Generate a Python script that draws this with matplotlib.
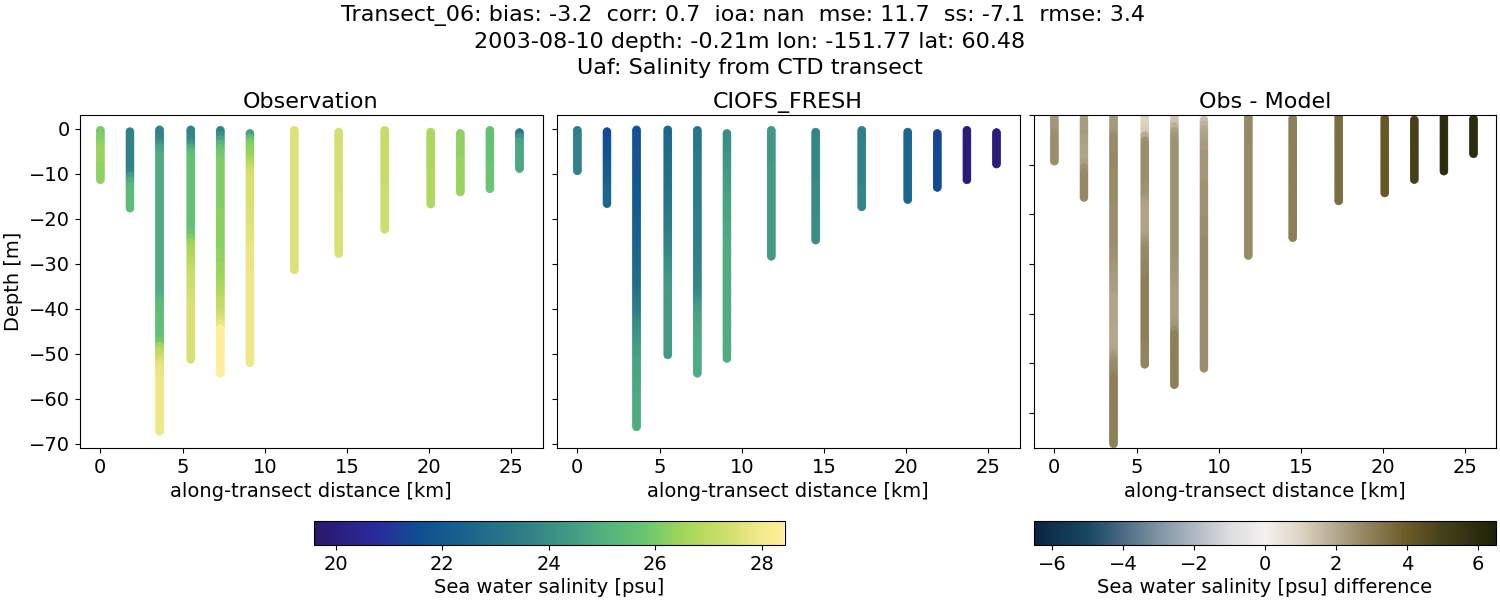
import numpy as np
import matplotlib
matplotlib.use("Agg")
import matplotlib.pyplot as plt
from matplotlib.cm import ScalarMappable
from matplotlib.colors import LinearSegmentedColormap, Normalize

TITLE = ("Transect_06: bias: -3.2  corr: 0.7  ioa: nan  mse: 11.7  ss: -7.1  rmse: 3.4  \n"
         "2003-08-10 depth: -0.21m lon: -151.77 lat: 60.48\n"
         "Uaf: Salinity from CTD transect")
PANEL_TITLES = ["Observation", "CIOFS_FRESH", "Obs - Model"]
XLABEL = "along-transect distance [km]"
YLABEL = "Depth [m]"
CBAR_LABEL = "Sea water salinity [psu]"
DIFF_LABEL = "Sea water salinity [psu] difference"

DISTANCE = [0.0, 1.8, 3.6, 5.5, 7.3, 9.1, 11.8, 14.5, 17.3, 20.1, 21.9, 23.7, 25.5]
TOP_DEPTH = [-0.3, -0.6, -0.2, -0.2, -0.3, -1.0, -0.3, -0.7, -0.3, -0.7, -1.0, -0.3, -0.8]
LEVELS = [0, -0.5, -1, -1.5, -2, -2.5, -3, -3.5, -4, -4.5, -5, -5.5, -6, -6.5, -7, -7.5, -8, -8.5, -9, -9.5,
          -10, -10.5, -11, -11.5, -12, -12.5, -13, -13.5, -14, -14.5, -15, -15.5, -16, -16.5, -17, -17.5, -18, -18.5, -19, -19.5,
          -20, -20.5, -21, -21.5, -22, -22.5, -23, -23.5, -24, -24.5, -25, -25.5, -26, -26.5, -27, -27.5, -28, -28.5, -29, -29.5,
          -30, -30.5, -31, -31.5, -32, -32.5, -33, -33.5, -34, -34.5, -35, -35.5, -36, -36.5, -37, -37.5, -38, -38.5, -39, -39.5,
          -40, -40.5, -41, -41.5, -42, -42.5, -43, -43.5, -44, -44.5, -45, -45.5, -46, -46.5, -47, -47.5, -48, -48.5, -49, -49.5,
          -50, -50.5, -51, -51.5, -52, -52.5, -53, -53.5, -54, -54.5, -55, -55.5, -56, -56.5, -57, -57.5, -58, -58.5, -59, -59.5,
          -60, -60.5, -61, -61.5, -62, -62.5, -63, -63.5, -64, -64.5, -65, -65.5, -66, -66.5, -67, -67.5]

OBS = [
    [26.0, 26.1, 26.2, 26.3, 26.4, 26.4, 26.4, 26.4, 26.3, 26.3, 26.3, 26.3],
    [23.6, 23.6, 23.6, 23.6, 23.6, 23.6, 23.6, 23.6, 23.6, 23.8, 24.5, 25.0, 25.2, 25.4, 25.4, 25.4, 25.5, 25.5],
    [23.6, 23.6, 23.7, 24.2, 24.6, 24.8, 24.9, 24.9, 24.9, 24.9, 24.9, 24.9, 24.9, 24.9, 24.9, 24.9, 24.9, 24.9,
     24.9, 24.9, 24.9, 24.9, 24.9, 24.9, 24.9, 24.9, 24.9, 24.9, 24.9, 24.9, 24.9, 24.9, 24.9, 24.9, 24.9, 24.9,
     25.0, 25.1, 25.3, 25.4, 25.4, 25.5, 25.5, 25.5, 25.5, 25.6, 25.7, 25.9, 26.5, 26.9, 27.1, 27.4, 27.7, 27.8,
     27.8, 27.9, 27.9, 27.9, 27.9, 27.9, 27.9, 27.9, 27.9, 27.9, 27.9, 27.9, 27.9, 27.9],
    [23.6, 23.7, 23.8, 24.2, 24.9, 25.4, 25.6, 25.6, 25.6, 25.6, 25.6, 25.6, 25.6, 25.6, 25.6, 25.6, 25.6, 25.6,
     25.6, 25.6, 25.6, 25.6, 25.7, 25.8, 26.1, 26.4, 26.6, 26.7, 26.8, 26.9, 27.0, 27.1, 27.2, 27.3, 27.3, 27.3,
     27.4, 27.4, 27.5, 27.5, 27.5, 27.5, 27.5, 27.5, 27.5, 27.5, 27.5, 27.5, 27.5, 27.5, 27.5, 27.5],
    [23.6, 24.0, 24.6, 25.2, 25.7, 25.9, 26.0, 26.1, 26.1, 26.1, 26.1, 26.1, 26.1, 26.1, 26.1, 26.1, 26.1, 26.1,
     26.2, 26.2, 26.2, 26.2, 26.2, 26.2, 26.2, 26.2, 26.2, 26.3, 26.3, 26.3, 26.4, 26.4, 26.4, 26.5, 26.6, 26.7,
     26.8, 26.9, 27.0, 27.1, 27.2, 27.4, 27.6, 27.8, 28.3, 28.4, 28.4, 28.4, 28.4, 28.4, 28.4, 28.4, 28.4, 28.4, 28.4],
    [24.5, 25.5, 26.1, 26.2, 26.3, 26.4, 26.7, 27.0, 27.3, 27.4, 27.5, 27.5, 27.5, 27.5, 27.5, 27.5, 27.5, 27.6,
     27.6, 27.6, 27.6, 27.7, 27.7, 27.7, 27.7, 27.8, 27.8, 27.8, 27.8, 27.8, 27.8, 27.9, 27.9, 27.9, 27.9, 27.9,
     27.9, 27.9, 27.9, 27.9, 27.9, 27.9, 27.9, 27.9, 27.9, 27.9, 27.9, 27.9, 27.9, 27.9, 27.9, 27.9],
    [27.6, 27.6, 27.6, 27.6, 27.6, 27.6, 27.6, 27.6, 27.6, 27.6, 27.6, 27.6, 27.6, 27.6, 27.6, 27.6,
     27.6, 27.6, 27.6, 27.6, 27.6, 27.6, 27.6, 27.6, 27.6, 27.6, 27.6, 27.6, 27.6, 27.6, 27.6, 27.6],
    [27.4, 27.4, 27.4, 27.4, 27.4, 27.4, 27.4, 27.4, 27.4, 27.4, 27.4, 27.4, 27.4, 27.4,
     27.5, 27.5, 27.5, 27.5, 27.5, 27.5, 27.5, 27.5, 27.5, 27.5, 27.5, 27.5, 27.5, 27.5],
    [27.2, 27.2, 27.2, 27.2, 27.2, 27.2, 27.2, 27.2, 27.2, 27.2, 27.2, 27.2,
     27.2, 27.3, 27.3, 27.3, 27.3, 27.3, 27.3, 27.3, 27.3, 27.3, 27.3],
    [26.7, 26.7, 26.7, 26.7, 26.7, 26.7, 26.7, 26.7, 26.7, 26.8, 26.8, 26.8, 26.8, 26.8, 26.8, 26.8, 26.8],
    [26.3, 26.3, 26.3, 26.3, 26.3, 26.3, 26.4, 26.4, 26.4, 26.4, 26.4, 26.4, 26.4, 26.4],
    [25.6, 25.6, 25.6, 25.7, 25.7, 25.7, 25.7, 25.7, 25.8, 25.8, 25.8, 25.8, 25.8, 25.8],
    [23.2, 24.2, 24.7, 24.8, 24.8, 24.8, 24.8, 24.8, 24.8],
]

MODEL = [
    [23.5, 23.5, 23.6, 23.6, 23.6, 23.6, 23.6, 23.6, 23.6, 23.6],
    [21.4, 21.5, 21.6, 21.6, 21.7, 21.8, 21.9, 22.0, 22.1, 22.2, 22.2, 22.3, 22.4, 22.5, 22.5, 22.5, 22.5],
    [21.8, 21.8, 21.8, 21.8, 21.8, 21.9, 21.9, 21.9, 21.9, 21.9, 21.9, 21.9, 22.0, 22.0, 22.0, 22.0, 22.0, 22.0,
     22.1, 22.1, 22.2, 22.2, 22.2, 22.3, 22.3, 22.4, 22.4, 22.5, 22.5, 22.6, 22.6, 22.7, 22.7, 22.8, 22.8, 22.9,
     23.0, 23.1, 23.2, 23.3, 23.4, 23.6, 23.7, 23.9, 24.0, 24.1, 24.2, 24.3, 24.4, 24.5, 24.5, 24.6, 24.6, 24.7,
     24.7, 24.7, 24.8, 24.8, 24.8, 24.9, 24.9, 24.9, 24.9, 24.9, 24.9, 24.9, 24.9],
    [22.6, 22.6, 22.7, 22.7, 22.7, 22.8, 22.8, 22.8, 22.9, 22.9, 22.9, 23.0, 23.0, 23.0, 23.1, 23.1, 23.1, 23.2,
     23.2, 23.3, 23.3, 23.4, 23.4, 23.5, 23.6, 23.6, 23.7, 23.8, 23.9, 24.0, 24.1, 24.1, 24.2, 24.3, 24.3, 24.4,
     24.4, 24.4, 24.4, 24.4, 24.4, 24.4, 24.4, 24.4, 24.4, 24.4, 24.4, 24.4, 24.4, 24.4, 24.4],
    [23.1, 23.2, 23.2, 23.2, 23.2, 23.3, 23.3, 23.3, 23.3, 23.3, 23.4, 23.4, 23.4, 23.4, 23.4, 23.4, 23.4, 23.4,
     23.5, 23.5, 23.5, 23.5, 23.5, 23.5, 23.5, 23.5, 23.5, 23.6, 23.6, 23.6, 23.6, 23.6, 23.7, 23.7, 23.7, 23.8,
     23.9, 24.0, 24.2, 24.4, 24.5, 24.6, 24.7, 24.7, 24.8, 24.8, 24.8, 24.9, 24.9, 24.9, 24.9, 24.9, 24.9, 24.9, 24.9],
    [24.0, 24.0, 24.0, 24.1, 24.1, 24.2, 24.2, 24.3, 24.3, 24.4, 24.4, 24.5, 24.5, 24.5, 24.6, 24.6, 24.6, 24.7,
     24.7, 24.7, 24.8, 24.8, 24.8, 24.8, 24.9, 24.9, 24.9, 24.9, 24.9, 24.9, 24.9, 24.9, 24.9, 24.9, 24.9, 24.9,
     24.9, 24.9, 24.9, 24.9, 24.9, 24.9, 24.9, 24.9, 24.9, 24.9, 24.9, 24.9, 24.9, 24.9, 24.9],
    [24.3, 24.3, 24.3, 24.3, 24.3, 24.3, 24.3, 24.3, 24.4, 24.4, 24.4, 24.4, 24.4, 24.4, 24.4, 24.4,
     24.4, 24.4, 24.4, 24.4, 24.4, 24.4, 24.4, 24.4, 24.4, 24.4, 24.4, 24.4, 24.4],
    [23.7, 23.7, 23.7, 23.8, 23.8, 23.8, 23.8, 23.8, 23.8, 23.8, 23.8, 23.9, 23.9,
     23.9, 23.9, 23.9, 23.9, 23.9, 23.9, 24.0, 24.0, 24.0, 24.0, 24.0, 24.0],
    [23.5, 23.5, 23.5, 23.6, 23.6, 23.6, 23.6, 23.6, 23.6, 23.6, 23.6, 23.6, 23.6, 23.7, 23.7, 23.7, 23.7, 23.7],
    [22.5, 22.5, 22.5, 22.6, 22.6, 22.6, 22.6, 22.6, 22.6, 22.6, 22.6, 22.6, 22.6, 22.6, 22.6, 22.6],
    [21.3, 21.3, 21.4, 21.4, 21.4, 21.5, 21.5, 21.5, 21.5, 21.5, 21.5, 21.5, 21.5],
    [19.9, 19.9, 19.9, 19.9, 19.9, 19.9, 19.9, 19.9, 19.9, 19.9, 19.9, 19.9],
    [19.9, 19.9, 19.9, 19.9, 19.9, 19.9, 19.9, 19.9],
]

DIFF = [
    [2.3, 2.4, 2.4, 2.5, 2.6, 2.6, 2.6, 2.6, 2.6, 2.6],
    [2.2, 2.3, 2.3, 2.3, 2.2, 2.2, 2.1, 2.1, 2.1, 2.2, 2.5, 2.7, 2.8, 2.8, 2.8, 2.8, 2.8],
    [2.3, 2.3, 2.3, 2.4, 2.6, 2.7, 2.7, 2.7, 2.8, 2.8, 2.8, 2.7, 2.7, 2.7, 2.7, 2.7, 2.7, 2.7,
     2.6, 2.6, 2.6, 2.6, 2.6, 2.6, 2.6, 2.6, 2.6, 2.5, 2.5, 2.5, 2.4, 2.4, 2.3, 2.3, 2.2, 2.2,
     2.1, 2.1, 2.1, 2.1, 2.1, 2.1, 2.0, 2.0, 2.0, 2.0, 2.0, 2.1, 2.3, 2.5, 2.7, 2.8, 2.9, 3.0,
     3.0, 3.0, 3.0, 3.0, 3.0, 3.0, 3.0, 3.0, 3.0, 3.0, 3.0, 3.0, 3.0],
    [1.0, 1.0, 1.1, 1.2, 1.9, 2.5, 2.6, 2.6, 2.6, 2.6, 2.6, 2.6, 2.6, 2.6, 2.5, 2.5, 2.4, 2.2,
     2.1, 2.1, 2.1, 2.1, 2.1, 2.1, 2.2, 2.4, 2.6, 2.7, 2.8, 2.8, 2.9, 2.9, 2.9, 3.0, 3.0, 3.0,
     3.0, 3.0, 3.0, 3.0, 3.0, 3.0, 3.0, 3.0, 3.0, 3.0, 2.9, 2.9, 2.9, 2.9, 2.9],
    [1.2, 1.4, 1.8, 2.2, 2.4, 2.5, 2.5, 2.5, 2.5, 2.5, 2.5, 2.5, 2.5, 2.5, 2.5, 2.5, 2.5, 2.5,
     2.5, 2.5, 2.5, 2.5, 2.5, 2.5, 2.5, 2.5, 2.5, 2.5, 2.5, 2.4, 2.4, 2.4, 2.3, 2.3, 2.3, 2.2,
     2.2, 2.2, 2.2, 2.2, 2.2, 2.3, 2.4, 2.7, 3.0, 3.0, 3.0, 3.0, 3.0, 3.0, 3.0, 3.0, 3.0, 3.0, 3.0],
    [1.5, 1.8, 2.0, 2.1, 2.2, 2.3, 2.3, 2.4, 2.4, 2.4, 2.4, 2.4, 2.4, 2.5, 2.5, 2.5, 2.5, 2.5,
     2.5, 2.5, 2.6, 2.6, 2.6, 2.6, 2.7, 2.7, 2.7, 2.7, 2.7, 2.7, 2.7, 2.7, 2.7, 2.6, 2.6, 2.6,
     2.6, 2.6, 2.6, 2.6, 2.6, 2.6, 2.6, 2.6, 2.6, 2.6, 2.6, 2.6, 2.6, 2.6, 2.6],
    [2.8, 2.8, 2.8, 2.8, 2.8, 2.7, 2.7, 2.7, 2.7, 2.7, 2.7, 2.7, 2.7, 2.7, 2.7, 2.7,
     2.7, 2.7, 2.7, 2.7, 2.7, 2.7, 2.7, 2.7, 2.7, 2.7, 2.7, 2.7, 2.7],
    [3.0, 3.0, 3.0, 3.0, 3.0, 3.0, 3.0, 3.0, 3.0, 3.0, 3.0, 3.0, 3.0,
     3.0, 3.0, 3.0, 3.0, 3.0, 3.0, 3.0, 3.0, 3.0, 3.0, 3.0, 3.0],
    [3.5, 3.5, 3.5, 3.5, 3.5, 3.5, 3.5, 3.5, 3.5, 3.5, 3.5, 3.5, 3.5, 3.5, 3.5, 3.5, 3.5, 3.5],
    [4.1, 4.1, 4.1, 4.1, 4.1, 4.1, 4.1, 4.1, 4.1, 4.1, 4.1, 4.1, 4.1, 4.1, 4.1, 4.1],
    [5.0, 5.0, 5.0, 5.0, 5.0, 5.0, 5.0, 5.0, 5.0, 5.0, 5.0, 5.0, 5.0],
    [6.0, 6.0, 6.0, 6.0, 6.0, 6.0, 6.0, 6.0, 6.0, 6.0, 6.0, 6.0],
    [6.0, 6.0, 6.0, 6.0, 6.0, 6.0, 6.0, 6.0],
]

SAL_TICKS = [20, 22, 24, 26, 28]
DIFF_TICKS = [-6, -4, -2, 0, 2, 4, 6]
X_TICKS = [0, 5, 10, 15, 20, 25]
Y_TICKS = [0, -10, -20, -30, -40, -50, -60, -70]

haline = LinearSegmentedColormap.from_list("haline_like", [
    (0.00, "#2A186C"), (0.13, "#2A2A9C"), (0.22, "#0F4D94"), (0.33, "#1A668C"),
    (0.44, "#2E7E88"), (0.55, "#449C85"), (0.61, "#51AF80"), (0.70, "#68C471"),
    (0.725, "#76CB69"), (0.78, "#9ED65C"), (0.837, "#BDDB60"), (0.893, "#D6E072"),
    (0.95, "#F3E98C"), (1.00, "#FDEF9A")])
diffmap = LinearSegmentedColormap.from_list("diff_like", [
    (0.00, "#0A2340"), (0.115, "#174763"), (0.192, "#4A6A82"), (0.27, "#7F94A4"),
    (0.346, "#AEB8C2"), (0.423, "#DBDDE0"), (0.50, "#F5F1EF"), (0.577, "#DDD4C4"),
    (0.654, "#B3A88E"), (0.73, "#8D7F58"), (0.808, "#6C5A28"), (0.885, "#45401A"),
    (1.00, "#1F2208")])
sal_norm = Normalize(19.59, 28.43)
diff_norm = Normalize(-6.52, 6.52)

W, H = 1500, 600
plt.rcParams.update({"font.size": 14})
fig = plt.figure(figsize=(W / 100, H / 100), dpi=100)


def box(x0, y0, x1, y1):
    return [x0 / W, 1 - y1 / H, (x1 - x0) / W, (y1 - y0) / H]


ax_obs = fig.add_axes(box(79.5, 115, 542.5, 448.2))
ax_mod = fig.add_axes(box(556.5, 115, 1019.5, 448.2))
ax_dif = fig.add_axes(box(1033.5, 115, 1496.5, 448.2))


def draw(ax, profiles, cmap, norm):
    for dist, top, vals in zip(DISTANCE, TOP_DEPTH, profiles):
        shown = np.repeat(vals, 2)[:-1]
        depth = top + np.array(LEVELS[:len(shown)], dtype=float)
        ax.scatter(np.full(len(shown), dist), depth, c=shown, cmap=cmap, norm=norm,
                   s=32, linewidths=0.5, edgecolors="face")


draw(ax_obs, OBS, haline, sal_norm)
draw(ax_mod, MODEL, haline, sal_norm)
draw(ax_dif, DIFF, diffmap, diff_norm)

for ax, title in zip((ax_obs, ax_mod, ax_dif), PANEL_TITLES):
    ax.set_title(title, fontsize=16, pad=5)
    ax.set_xlim(-1.27, 26.9)
    ax.set_xticks(X_TICKS)
    ax.set_yticks(Y_TICKS)
    ax.set_xlabel(XLABEL, fontsize=14, labelpad=3.5)
    ax.tick_params(labelsize=14)
ax_obs.set_ylim(-70.95, 3.1)
ax_mod.set_ylim(-70.95, 3.1)
ax_dif.set_ylim(-67.1, 0)
ax_mod.tick_params(labelleft=False)
ax_dif.tick_params(labelleft=False)
ax_obs.set_ylabel(YLABEL, fontsize=14, labelpad=4)

fig.suptitle(TITLE, x=0.5, y=0.9915, fontsize=16, va="top", linespacing=1.36)

cax1 = fig.add_axes(box(314, 521, 784.5, 545))
cb1 = fig.colorbar(ScalarMappable(norm=sal_norm, cmap=haline), cax=cax1, orientation="horizontal")
cb1.set_ticks(SAL_TICKS)
cb1.set_label(CBAR_LABEL, fontsize=14, labelpad=3)
cb1.ax.tick_params(labelsize=14)

cax2 = fig.add_axes(box(1033.5, 521, 1496.5, 545))
cb2 = fig.colorbar(ScalarMappable(norm=diff_norm, cmap=diffmap), cax=cax2, orientation="horizontal")
cb2.set_ticks(DIFF_TICKS)
cb2.set_label(DIFF_LABEL, fontsize=14, labelpad=3)
cb2.ax.tick_params(labelsize=14)

fig.savefig("out.png", dpi=100)
